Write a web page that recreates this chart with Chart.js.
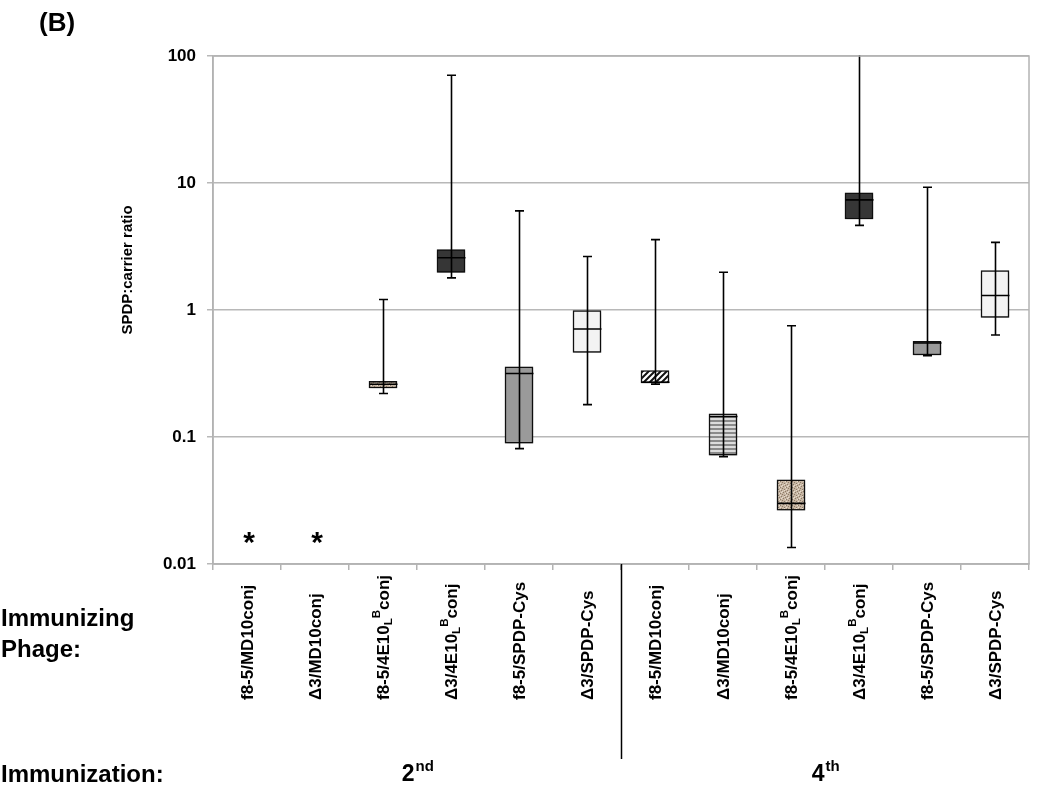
<!DOCTYPE html>
<html lang="en">
  <head>
    <meta charset="UTF-8" />
    <title>SPDP:carrier ratio</title>
    <script src="https://cdn.jsdelivr.net/npm/chart.js"></script>
    <style>
      html,
      body {
        margin: 0;
        padding: 0;
        background: #fff;
      }
      .container {
        width: 1050px;
        height: 804px;
      }
    </style>
  </head>
  <body>
    <div class="container">
      <canvas id="graficoRazao" width="1050" height="804"></canvas>
    </div>

    <script>
      // _X = subscript, ^X = superscript
      const categories = [
        "f8-5/MD10conj",
        "Δ3/MD10conj",
        "f8-5/4E10_L^Bconj",
        "Δ3/4E10_L^Bconj",
        "f8-5/SPDP-Cys",
        "Δ3/SPDP-Cys",
        "f8-5/MD10conj",
        "Δ3/MD10conj",
        "f8-5/4E10_L^Bconj",
        "Δ3/4E10_L^Bconj",
        "f8-5/SPDP-Cys",
        "Δ3/SPDP-Cys",
      ];
      const immunizations = ["2", "4"];
      const immunizationSuffix = ["nd", "th"];

      const whiskerLow = [null, null, 0.22, 1.79, 0.081, 0.18, 0.261, 0.07, 0.0135, 4.64, 0.437, 0.635];
      const boxLow = [null, null, 0.243, 1.98, 0.0895, 0.463, 0.267, 0.072, 0.0265, 5.21, 0.442, 0.874];
      const medians = [null, null, 0.26, 2.58, 0.316, 0.708, 0.27, 0.145, 0.03, 7.36, 0.55, 1.3];
      const boxHigh = [null, null, 0.274, 2.99, 0.357, 0.99, 0.334, 0.152, 0.046, 8.36, 0.566, 2.04];
      const whiskerHigh = [null, null, 1.21, 70.6, 6.03, 2.64, 3.58, 1.98, 0.752, 120, 9.25, 3.41];
      // asterisk = not detected
      const notDetected = [0.015, 0.015, null, null, null, null, null, null, null, null, null, null];
      const fills = ["", "", "tan", "dark", "gray", "light", "diag", "hstripe", "tan", "dark", "gray", "light"];

      const yTicks = [0.01, 0.1, 1, 10, 100];

      const FONT = "'Liberation Sans', Arial, sans-serif";

      function padrao(tipo) {
        const c = document.createElement("canvas");
        const g = c.getContext("2d");
        if (tipo === "tan") {
          c.width = 6;
          c.height = 6;
          g.fillStyle = "#c7b6a3";
          g.fillRect(0, 0, 6, 6);
          g.fillStyle = "#8c7a68";
          [[0, 1], [3, 0], [4, 3], [1, 4], [5, 5], [2, 2]].forEach((p) => g.fillRect(p[0], p[1], 1, 1));
          g.fillStyle = "#e6dccf";
          [[1, 0], [5, 1], [2, 5], [0, 3], [4, 4]].forEach((p) => g.fillRect(p[0], p[1], 1, 1));
          return g.createPattern(c, "repeat");
        }
        if (tipo === "diag") {
          c.width = 6;
          c.height = 6;
          g.fillStyle = "#fff";
          g.fillRect(0, 0, 6, 6);
          g.strokeStyle = "#111";
          g.lineWidth = 2;
          g.beginPath();
          g.moveTo(-1, 7);
          g.lineTo(7, -1);
          g.moveTo(-4, 4);
          g.lineTo(4, -4);
          g.moveTo(2, 10);
          g.lineTo(10, 2);
          g.stroke();
          return g.createPattern(c, "repeat");
        }
        if (tipo === "hstripe") {
          c.width = 4;
          c.height = 4;
          g.fillStyle = "#dcdcdc";
          g.fillRect(0, 0, 4, 4);
          g.fillStyle = "#8a8a8a";
          g.fillRect(0, 0, 4, 2);
          return g.createPattern(c, "repeat");
        }
        return { dark: "#363636", gray: "#9a9a9a", light: "#f3f3f3" }[tipo] || "#fff";
      }

      function drawRich(ctx, txt, x, y, size) {
        // draws text with _X subscripts and ^X superscripts, left to right from x
        let i = 0;
        while (i < txt.length) {
          let ch = txt[i];
          let dy = 0;
          let s = size;
          if ((ch === "_" || ch === "^") && i + 1 < txt.length) {
            dy = ch === "_" ? size * 0.3 : -size * 0.45;
            s = size * 0.68;
            ch = txt[i + 1];
            i += 2;
          } else {
            i += 1;
          }
          ctx.font = "bold " + s + "px " + FONT;
          ctx.fillText(ch, x, y + dy);
          x += ctx.measureText(ch).width;
        }
      }

      const boxPlotPlugin = {
        id: "boxPlotPlugin",
        beforeDatasetDraw(chart) {
          const ctx = chart.ctx;
          ctx.save();
          ctx.shadowColor = "rgba(0,0,0,0.35)";
          ctx.shadowBlur = 4;
          ctx.shadowOffsetX = 1;
          ctx.shadowOffsetY = 2;
        },
        afterDatasetDraw(chart) {
          chart.ctx.restore();
        },
        afterDatasetsDraw(chart) {
          const ctx = chart.ctx;
          const xs = chart.scales.x;
          const ys = chart.scales.y;
          const area = chart.chartArea;

          ctx.save();
          ctx.beginPath();
          ctx.rect(area.left, area.top - 1, area.right - area.left, area.bottom - area.top + 2);
          ctx.clip();
          ctx.strokeStyle = "#000";
          ctx.lineWidth = 1.6;
          for (let i = 0; i < categories.length; i++) {
            if (whiskerLow[i] == null) continue;
            const x = Math.round(xs.getPixelForValue(i)) + 0.5;
            const yLo = ys.getPixelForValue(whiskerLow[i]);
            const yHi = ys.getPixelForValue(whiskerHigh[i]);
            const yMed = ys.getPixelForValue(medians[i]);
            ctx.beginPath();
            ctx.moveTo(x, yLo);
            ctx.lineTo(x, yHi);
            ctx.moveTo(x - 4.5, yLo);
            ctx.lineTo(x + 4.5, yLo);
            ctx.moveTo(x - 4.5, yHi);
            ctx.lineTo(x + 4.5, yHi);
            ctx.moveTo(x - 14, yMed);
            ctx.lineTo(x + 14, yMed);
            ctx.stroke();
          }
          ctx.restore();

          // asterisks
          ctx.save();
          ctx.fillStyle = "#000";
          ctx.font = "bold 30px " + FONT;
          ctx.textAlign = "center";
          ctx.textBaseline = "alphabetic";
          notDetected.forEach((v, i) => {
            if (v == null) return;
            ctx.fillText("*", xs.getPixelForValue(i) + 2, ys.getPixelForValue(v) + 10);
          });
          ctx.restore();
        },
        afterDraw(chart) {
          const ctx = chart.ctx;
          const xs = chart.scales.x;
          const area = chart.chartArea;

          // plot frame
          ctx.save();
          ctx.strokeStyle = "#b3b3b3";
          ctx.lineWidth = 1.5;
          ctx.strokeRect(area.left, area.top, area.right - area.left, area.bottom - area.top);
          ctx.restore();

          // category labels (rotated, reading bottom to top)
          ctx.save();
          ctx.fillStyle = "#000";
          ctx.textBaseline = "middle";
          ctx.textAlign = "left";
          categories.forEach((lab, i) => {
            ctx.save();
            ctx.translate(xs.getPixelForValue(i) + 1, 700);
            ctx.rotate(-Math.PI / 2);
            drawRich(ctx, lab, 0, 0, 17);
            ctx.restore();
          });
          ctx.restore();

          // separator between immunizations
          const xSep = Math.round((xs.getPixelForValue(5) + xs.getPixelForValue(6)) / 2) + 0.5;
          ctx.save();
          ctx.strokeStyle = "#000";
          ctx.lineWidth = 1.5;
          ctx.beginPath();
          ctx.moveTo(xSep, area.bottom);
          ctx.lineTo(xSep, 759);
          ctx.stroke();
          ctx.restore();

          // immunization labels
          ctx.save();
          ctx.fillStyle = "#000";
          ctx.textBaseline = "alphabetic";
          const centros = [(area.left + xSep) / 2, (xSep + area.right) / 2];
          immunizations.forEach((n, k) => {
            ctx.font = "bold 23px " + FONT;
            const w1 = ctx.measureText(n).width;
            ctx.font = "bold 15px " + FONT;
            const w2 = ctx.measureText(immunizationSuffix[k]).width;
            const x0 = centros[k] - (w1 + w2) / 2;
            ctx.font = "bold 23px " + FONT;
            ctx.fillText(n, x0, 781);
            ctx.font = "bold 15px " + FONT;
            ctx.fillText(immunizationSuffix[k], x0 + w1 + 1, 771);
          });

          ctx.font = "bold 24px " + FONT;
          ctx.textAlign = "left";
          ctx.fillText("Immunizing", 1, 626);
          ctx.fillText("Phage:", 1, 657);
          ctx.fillText("Immunization:", 1, 782);

          ctx.font = "bold 26px " + FONT;
          ctx.fillText("(B)", 39, 31);

          // y axis title
          ctx.font = "bold 15px " + FONT;
          ctx.textAlign = "center";
          ctx.textBaseline = "middle";
          ctx.translate(128, 270);
          ctx.rotate(-Math.PI / 2);
          ctx.fillText("SPDP:carrier ratio", 0, 0);
          ctx.restore();
        },
      };

      const ctx = document.getElementById("graficoRazao").getContext("2d");
      const boxes = categories.map((c, i) => (boxLow[i] == null ? null : [boxLow[i], boxHigh[i]]));

      window.grafico = new Chart(ctx, {
        type: "bar",
        data: {
          labels: categories,
          datasets: [
            {
              label: "SPDP:carrier ratio",
              data: boxes,
              backgroundColor: fills.map((f) => padrao(f)),
              borderColor: "#111",
              borderWidth: 1.5,
              borderSkipped: false,
              barThickness: 28,
            },
          ],
        },
        options: {
          responsive: false,
          animation: false,
          layout: { padding: { top: 56, right: 21, left: 0, bottom: 0 } },
          plugins: {
            legend: { display: false },
            tooltip: { enabled: false },
          },
          scales: {
            x: {
              offset: true,
              ticks: { display: false },
              grid: {
                offset: true,
                drawOnChartArea: false,
                tickLength: 6,
                color: "#b3b3b3",
                lineWidth: 1.5,
              },
              border: { color: "#b3b3b3", width: 1.5 },
              afterFit(scale) {
                scale.height = 240;
              },
            },
            y: {
              type: "logarithmic",
              min: 0.01,
              max: 100,
              afterBuildTicks(scale) {
                scale.ticks = yTicks.map((v) => ({ value: v }));
              },
              ticks: {
                color: "#000",
                padding: 11,
                font: { family: FONT, size: 17, weight: "bold" },
                callback: (v) => String(v),
              },
              grid: {
                color: "#b8b8b8",
                lineWidth: 1.5,
                tickLength: 6,
              },
              border: { color: "#b3b3b3", width: 1.5 },
              afterFit(scale) {
                scale.width = 213;
              },
            },
          },
        },
        plugins: [boxPlotPlugin],
      });
    </script>
  </body>
</html>
